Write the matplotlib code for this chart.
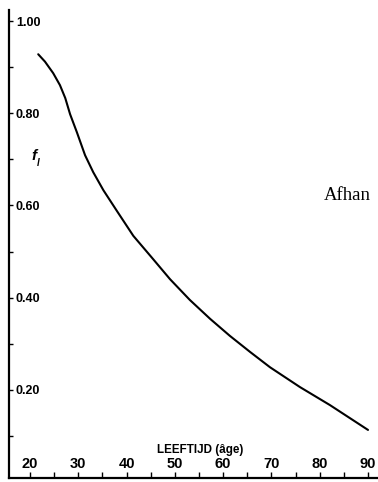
import matplotlib
matplotlib.use("Agg")
import matplotlib.pyplot as plt
from matplotlib.ticker import MultipleLocator, FixedLocator

# Data
ages = [21.7, 23.1, 24.8, 26.2, 27.3, 28.3, 29.7, 31.4, 33.1, 35.2, 38.0, 41.4, 45.3,
        49.0, 53.1, 57.3, 61.4, 65.6, 69.7, 75.9, 82.1, 90.0]
fl = [0.928, 0.912, 0.887, 0.861, 0.833, 0.798, 0.759, 0.709, 0.672, 0.633, 0.588, 0.534, 0.486,
      0.440, 0.395, 0.354, 0.317, 0.282, 0.249, 0.206, 0.167, 0.113]
x_ticks = [20, 30, 40, 50, 60, 70, 80, 90]
y_ticks = [0.20, 0.40, 0.60, 0.80, 1.00]
y_labels = ["0.20", "0.40", "0.60", "0.80", "1.00"]

W, H = 378, 482
fig = plt.figure(figsize=(W / 100, H / 100), dpi=100)
ax = fig.add_axes([9 / W, 4 / H, 369 / W, 468 / H])

tick_font = ['Liberation Sans', 'DejaVu Sans']

ax.plot(ages, fl, color='black', lw=1.5, solid_capstyle='round', solid_joinstyle='round')

ax.set_xlim(15.65, 92.07)
ax.set_ylim(0.0087, 1.024)

for s in ['top', 'right']:
    ax.spines[s].set_visible(False)
for s in ['left', 'bottom']:
    ax.spines[s].set_linewidth(1.6)

ax.xaxis.set_major_locator(FixedLocator(x_ticks))
ax.xaxis.set_minor_locator(MultipleLocator(5))
ax.yaxis.set_major_locator(FixedLocator(y_ticks))
ax.yaxis.set_minor_locator(MultipleLocator(0.1))
ax.set_yticklabels(y_labels)

ax.tick_params(axis='x', which='both', direction='in', length=4, width=1, pad=-15, labelsize=10.5)
ax.tick_params(axis='y', which='both', direction='in', length=3, width=1, pad=-5, labelsize=9)
for lab in ax.get_xticklabels():
    lab.set_fontfamily(tick_font)
    lab.set_fontweight('bold')
for lab in ax.get_yticklabels():
    lab.set_fontfamily(tick_font)
    lab.set_fontweight('bold')
    lab.set_horizontalalignment('left')

ax.text(20.8, 0.708, "f", fontsize=11, fontweight='bold', style='italic',
        family=tick_font, ha='center', va='center')
ax.text(21.8, 0.692, "l", fontsize=7, fontweight='bold', style='italic',
        family=tick_font, ha='center', va='center')
ax.text(55.2, 0.069, "LEEFTIJD (âge)", fontsize=8.4, fontweight='bold',
        family=tick_font, ha='center', va='center')
fig.text(324 / W, 1 - 195 / H, "Afhan", fontsize=13.5, family=['Liberation Serif', 'DejaVu Serif'],
         ha='left', va='center')

fig.savefig("out.png", dpi=100)
